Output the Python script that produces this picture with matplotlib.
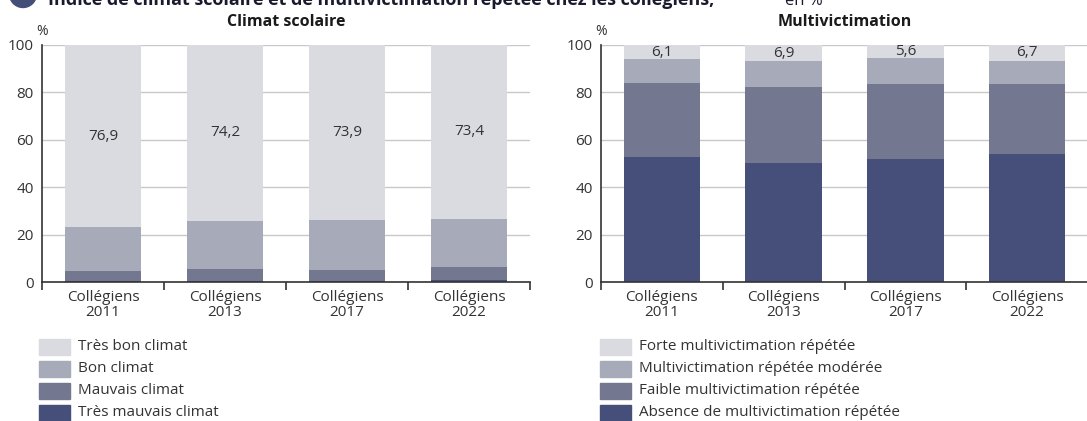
import matplotlib
matplotlib.use("Agg")
import matplotlib.pyplot as plt
from matplotlib.patches import Rectangle, Ellipse
import numpy as np

plt.rcParams["font.family"] = ["Open Sans", "DejaVu Sans"]

# données
categories = ["Collégiens\n2011", "Collégiens\n2013", "Collégiens\n2017", "Collégiens\n2022"]

climat_labels = ["Très mauvais climat", "Mauvais climat", "Bon climat", "Très bon climat"]
tres_mauvais = [0.5, 0.5, 0.5, 0.9]
mauvais = [4.1, 5.0, 4.6, 5.3]
bon = [18.5, 20.3, 21.0, 20.4]
tres_bon = [76.9, 74.2, 73.9, 73.4]

multi_labels = ["Absence de multivictimation répétée", "Faible multivictimation répétée",
                "Multivictimation répétée modérée", "Forte multivictimation répétée"]
absence = [52.7, 50.1, 51.8, 53.9]
faible = [31.2, 32.2, 31.7, 29.6]
moderee = [10.0, 10.8, 10.9, 9.8]
forte = [6.1, 6.9, 5.6, 6.7]

colors = ["#464f79", "#737790", "#a7aab8", "#d9dbe0"]

W, H = 1087, 421
fig = plt.figure(figsize=(W / 100, H / 100), dpi=100)


def px_box(x0, y_top, x1, y_bot):
    return [x0 / W, 1 - y_bot / H, (x1 - x0) / W, (y_bot - y_top) / H]


def stacked(ax, series, title):
    x = np.arange(len(categories))
    bottom = np.zeros(len(categories))
    for vals, c in zip(series, colors):
        ax.bar(x, vals, bottom=bottom, width=0.63, color=c, zorder=2)
        bottom += np.array(vals)
    # valeurs du segment supérieur
    top = np.array(series[-1])
    for xi, v in zip(x, top):
        ax.text(xi, 100 - v / 2, f"{v:.1f}".replace(".", ","), ha="center", va="center",
                fontsize=11, color="#333333", zorder=3)
    ax.set_xlim(-0.5, len(categories) - 0.5)
    ax.set_ylim(0, 100)
    ax.set_yticks([0, 20, 40, 60, 80, 100])
    ax.yaxis.grid(True, color="#c8c8c8", linewidth=1, zorder=0)
    ax.set_xticks(x)
    ax.set_xticklabels(categories, fontsize=11, color="#333333", linespacing=1.0)
    ax.set_xticks(np.arange(-0.5, len(categories)), minor=True)
    ax.tick_params(axis="x", which="major", length=0, pad=6)
    ax.tick_params(axis="x", which="minor", length=6, width=1.2, color="#333333", direction="out")
    ax.tick_params(axis="y", length=0, pad=6, labelsize=11, labelcolor="#333333")
    for s in ["top", "right"]:
        ax.spines[s].set_visible(False)
    for s in ["left", "bottom"]:
        ax.spines[s].set_color("#333333")
        ax.spines[s].set_linewidth(1.2)
    ax.text(-0.5, 102.5, "%", ha="center", va="bottom", fontsize=10, color="#333333")
    ax.set_title(title, fontsize=11.5, fontweight="bold", color="#1a1a1a", pad=14)


ax1 = fig.add_axes(px_box(42, 45, 530, 282))
stacked(ax1, [tres_mauvais, mauvais, bon, tres_bon], "Climat scolaire")

ax2 = fig.add_axes(px_box(601, 45, 1088, 282))
stacked(ax2, [absence, faible, moderee, forte], "Multivictimation")


def legend(x0, labels):
    rows = [347, 369, 391, 413]
    for lab, c, yc in zip(labels[::-1], colors[::-1], rows):
        fig.patches.append(Rectangle((x0 / W, 1 - (yc + 8) / H), 31 / W, 16 / H,
                                     transform=fig.transFigure, color=c))
        fig.text((x0 + 39) / W, 1 - yc / H, lab, ha="left", va="center",
                 fontsize=11, color="#333333")


legend(39, climat_labels)
legend(600, multi_labels)

# titre général (coupé en haut, comme sur l'original)
fig.patches.append(Ellipse((23 / W, 1 + 6 / H), 27 / W, 27 / H,
                           transform=fig.transFigure, color="#454e78"))
fig.text(48 / W, 1 - 5 / H,
         "Indice de climat scolaire et de multivictimation répétée chez les collégiens,",
         ha="left", va="baseline", fontsize=13, fontweight="bold", color="#1a1a2e")
fig.text(785 / W, 1 - 5 / H, "en %", ha="left", va="baseline", fontsize=12, color="#1a1a2e")

fig.savefig("out.png", dpi=100)
